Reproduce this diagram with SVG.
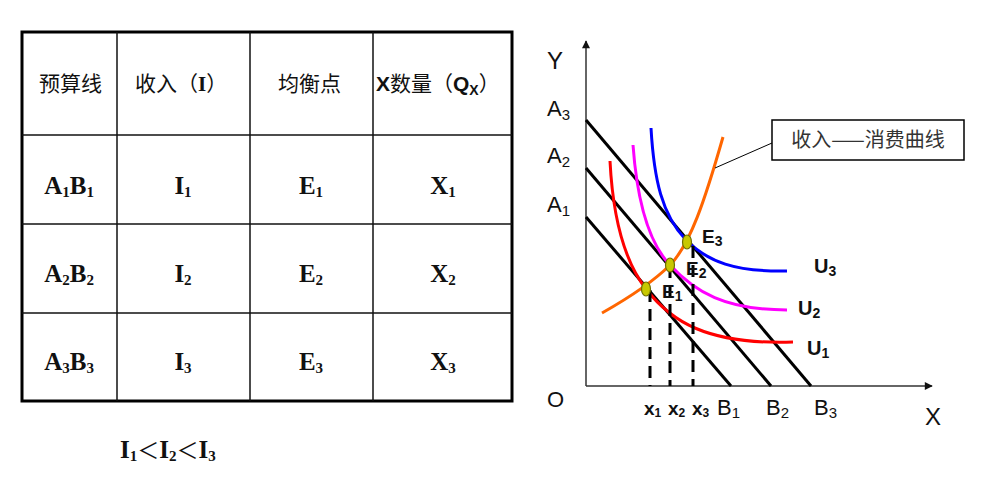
<svg xmlns="http://www.w3.org/2000/svg" width="993" height="480" viewBox="0 0 993 480">
<style>
.cjk{font-family:"Noto Sans CJK SC","Noto Sans CJK JP",sans-serif;font-size:21px;fill:#111}
.tb{font-family:"Liberation Serif",serif;font-weight:bold;font-size:25px;fill:#111}
.ab{font-family:"Liberation Sans",Arial,sans-serif;font-weight:bold;fill:#111}
.ar{font-family:"Liberation Sans",Arial,sans-serif;fill:#111}
.thin{stroke:#111;stroke-width:1.5;fill:none}
.bud{stroke:#000;stroke-width:3;fill:none}
.dash{stroke:#000;stroke-width:3;stroke-dasharray:12 7;fill:none}
.pt{fill:#c8c800;stroke:#6f6f00;stroke-width:1.2}
</style>
<defs>
<marker id="arr" viewBox="0 0 10 10" refX="9" refY="5" markerWidth="9" markerHeight="8" markerUnits="userSpaceOnUse" orient="auto">
<path d="M0,0 L10,5 L0,10 z" fill="#111"/>
</marker>
</defs>
<rect width="993" height="480" fill="#fff"/>

<g id="table">
<rect x="22" y="32" width="490" height="369" fill="none" stroke="#000" stroke-width="3"/>
<line class="thin" x1="117" y1="32" x2="117" y2="401"/>
<line class="thin" x1="250" y1="32" x2="250" y2="401"/>
<line class="thin" x1="373" y1="32" x2="373" y2="401"/>
<line class="thin" x1="22" y1="135" x2="512" y2="135"/>
<line class="thin" x1="22" y1="224" x2="512" y2="224"/>
<line class="thin" x1="22" y1="313" x2="512" y2="313"/>
<text class="cjk" x="39" y="91">预算线</text>
<text class="cjk" x="135" y="91">收入（<tspan class="tb" style="font-size:21px">I</tspan>）</text>
<text class="cjk" x="278" y="91">均衡点</text>
<text class="cjk" x="376" y="91"><tspan class="ab" style="font-size:21px">X</tspan>数量（<tspan class="ab" style="font-size:21px">Q</tspan><tspan class="ab" style="font-size:14px" dy="4">X</tspan><tspan dy="-4">）</tspan></text>

<text class="tb" x="69" y="194" text-anchor="middle">A<tspan font-size="15" dy="3">1</tspan><tspan dy="-3">B</tspan><tspan font-size="15" dy="3">1</tspan></text>
<text class="tb" x="183" y="194" text-anchor="middle">I<tspan font-size="15" dy="3">1</tspan></text>
<text class="tb" x="311" y="194" text-anchor="middle">E<tspan font-size="15" dy="3">1</tspan></text>
<text class="tb" x="443" y="194" text-anchor="middle">X<tspan font-size="15" dy="3">1</tspan></text>

<text class="tb" x="69" y="282" text-anchor="middle">A<tspan font-size="15" dy="3">2</tspan><tspan dy="-3">B</tspan><tspan font-size="15" dy="3">2</tspan></text>
<text class="tb" x="183" y="282" text-anchor="middle">I<tspan font-size="15" dy="3">2</tspan></text>
<text class="tb" x="311" y="282" text-anchor="middle">E<tspan font-size="15" dy="3">2</tspan></text>
<text class="tb" x="443" y="282" text-anchor="middle">X<tspan font-size="15" dy="3">2</tspan></text>

<text class="tb" x="69" y="370" text-anchor="middle">A<tspan font-size="15" dy="3">3</tspan><tspan dy="-3">B</tspan><tspan font-size="15" dy="3">3</tspan></text>
<text class="tb" x="183" y="370" text-anchor="middle">I<tspan font-size="15" dy="3">3</tspan></text>
<text class="tb" x="311" y="370" text-anchor="middle">E<tspan font-size="15" dy="3">3</tspan></text>
<text class="tb" x="443" y="370" text-anchor="middle">X<tspan font-size="15" dy="3">3</tspan></text>
</g>

<g id="footer">
<text class="tb" x="120" y="458">I<tspan font-size="15" dy="3">1</tspan><tspan dy="-3" font-family="Noto Sans CJK SC, sans-serif" font-weight="normal" font-size="22">＜</tspan>I<tspan font-size="15" dy="3">2</tspan><tspan dy="-3" font-family="Noto Sans CJK SC, sans-serif" font-weight="normal" font-size="22">＜</tspan>I<tspan font-size="15" dy="3">3</tspan></text>
</g>

<g id="axes">
<line x1="586" y1="386" x2="586" y2="41" stroke="#333" stroke-width="1.5" marker-end="url(#arr)"/>
<line x1="586" y1="386" x2="932" y2="386" stroke="#333" stroke-width="1.5" marker-end="url(#arr)"/>
<text class="ar" x="547" y="69" font-size="24">Y</text>
<text class="ar" x="547" y="116" font-size="22">A<tspan font-size="15" dy="4">3</tspan></text>
<text class="ar" x="547" y="163" font-size="22">A<tspan font-size="15" dy="4">2</tspan></text>
<text class="ar" x="547" y="212" font-size="22">A<tspan font-size="15" dy="4">1</tspan></text>
<text class="ar" x="547" y="407" font-size="22">O</text>
<text class="ar" x="925" y="425" font-size="24">X</text>
<text class="ab" x="644" y="415" font-size="19">x<tspan font-size="12" dy="2">1</tspan></text>
<text class="ab" x="668" y="415" font-size="19">x<tspan font-size="12" dy="2">2</tspan></text>
<text class="ab" x="692" y="415" font-size="19">x<tspan font-size="12" dy="2">3</tspan></text>
<text class="ar" x="717" y="415" font-size="22">B<tspan font-size="15" dy="3">1</tspan></text>
<text class="ar" x="766" y="415" font-size="22">B<tspan font-size="15" dy="3">2</tspan></text>
<text class="ar" x="814" y="415" font-size="22">B<tspan font-size="15" dy="3">3</tspan></text>
</g>

<g id="connectors">
<line class="bud" x1="586" y1="120" x2="811" y2="386"/>
<line class="bud" x1="586" y1="168" x2="771" y2="386"/>
<line class="bud" x1="586" y1="217" x2="731" y2="386"/>
<path d="M610,161 C613,220 625,262 646,289 C670,320 705,345 793,342" stroke="#ff0000" stroke-width="3" fill="none"/>
<path d="M633,145 C637,200 648,242 670,265 C695,292 725,310 787,310" stroke="#ff00ff" stroke-width="3" fill="none"/>
<path d="M651,128 C654,180 662,215 686,240 C708,262 735,272 787,271" stroke="#0000ff" stroke-width="3" fill="none"/>
<path d="M602,313 C625,300 650,285 670,265 C690,245 705,200 723,137" stroke="#ff6600" stroke-width="3" fill="none"/>
<line class="dash" x1="650" y1="290" x2="650" y2="386"/>
<line class="dash" x1="670" y1="266" x2="670" y2="386"/>
<line class="dash" x1="693" y1="246" x2="693" y2="386"/>
<line x1="715" y1="168" x2="772" y2="143" stroke="#000" stroke-width="1"/>
</g>

<g id="points">
<ellipse class="pt" cx="646" cy="289" rx="4.5" ry="7"/>
<ellipse class="pt" cx="670" cy="265" rx="4.5" ry="7"/>
<ellipse class="pt" cx="687" cy="242" rx="4.5" ry="7"/>
<text class="ab" x="702" y="243" font-size="19">E<tspan font-size="14" dy="3">3</tspan></text>
<text class="ab" x="686" y="275" font-size="19">E<tspan font-size="14" dy="3">2</tspan></text>
<text class="ab" x="662" y="298" font-size="19">E<tspan font-size="14" dy="3">1</tspan></text>
<text class="ab" x="814" y="273" font-size="20">U<tspan font-size="14" dy="3">3</tspan></text>
<text class="ab" x="798" y="315" font-size="20">U<tspan font-size="14" dy="3">2</tspan></text>
<text class="ab" x="807" y="355" font-size="20">U<tspan font-size="14" dy="3">1</tspan></text>
</g>

<g id="callout">
<rect x="772" y="120" width="192" height="40" fill="#fff" stroke="#000" stroke-width="1.5"/>
<text class="cjk" x="868" y="147" text-anchor="middle" style="fill:#333;font-size:20px">收入——消费曲线</text>
</g>
</svg>
